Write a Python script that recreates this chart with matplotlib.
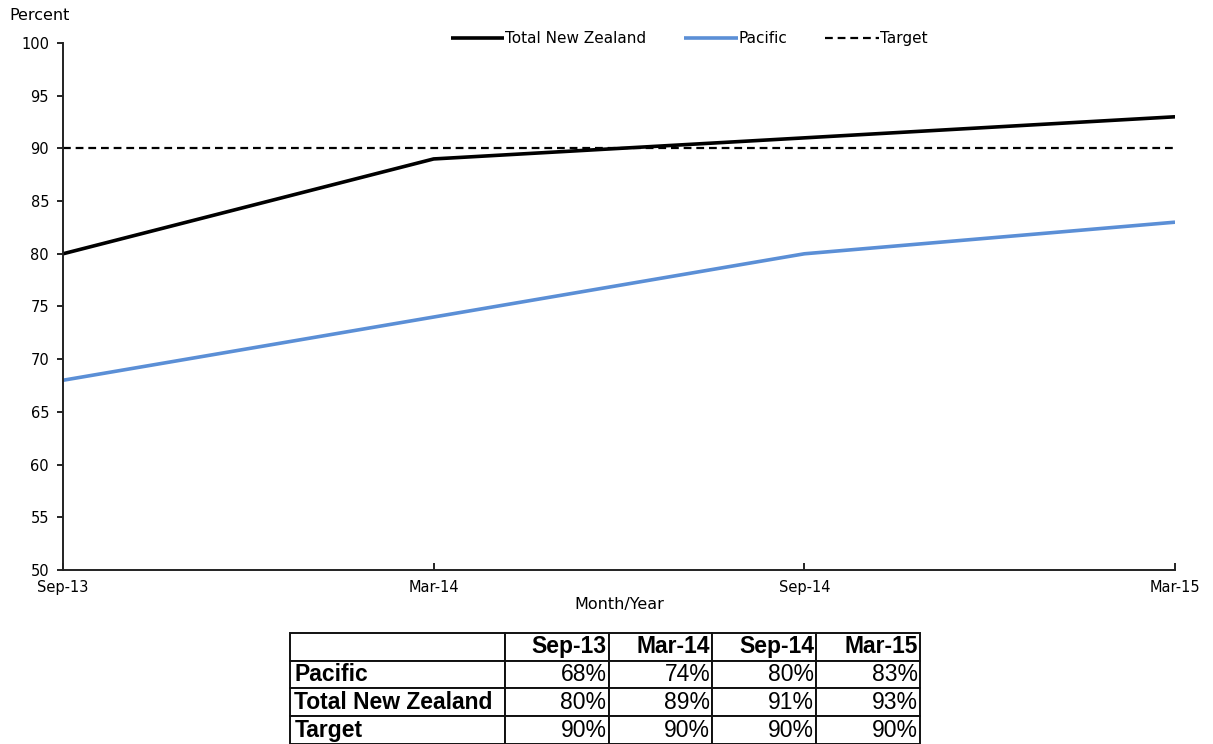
import matplotlib
matplotlib.use('Agg')
import matplotlib.pyplot as plt

periods = ['Sep-13', 'Mar-14', 'Sep-14', 'Mar-15']
total_nz = [80, 89, 91, 93]
pacific = [68, 74, 80, 83]
target = [90, 90, 90, 90]
y_ticks = [50, 55, 60, 65, 70, 75, 80, 85, 90, 95, 100]

C_BLACK = '#000000'
C_PACIFIC = '#5B8FD6'
AX_FONT = ['DejaVu Sans']
TABLE_FONT = ['Liberation Sans Narrow', 'Liberation Sans', 'DejaVu Sans']

fig = plt.figure(figsize=(12.13, 7.44), dpi=100)
ax = fig.add_axes([0.0519, 0.2339, 0.9168, 0.7083])

x = list(range(len(periods)))
ax.plot(x, total_nz, color=C_BLACK, lw=2.6, label='Total New Zealand', solid_capstyle='butt')
ax.plot(x, pacific, color=C_PACIFIC, lw=2.6, label='Pacific', solid_capstyle='butt')
ax.plot(x, target, color=C_BLACK, lw=1.6, ls=(0, (3.5, 2.2)), label='Target')

ax.set_xlim(0, len(periods) - 1)
ax.set_ylim(50, 100)
ax.set_xticks(x)
ax.set_xticklabels(periods)
ax.set_yticks(y_ticks)
for lab in ax.get_xticklabels() + ax.get_yticklabels():
    lab.set_family(AX_FONT)
    lab.set_fontsize(10.5)
ax.tick_params(axis='x', direction='in', length=5, width=1.2, pad=7)
ax.tick_params(axis='y', direction='out', length=4, width=1.2, pad=6)
ax.spines['top'].set_visible(False)
ax.spines['right'].set_visible(False)
ax.spines['left'].set_linewidth(1.4)
ax.spines['bottom'].set_linewidth(1.4)
ax.spines['left'].set_color('#222222')
ax.spines['bottom'].set_color('#222222')

ax.set_xlabel('Month/Year', family=AX_FONT, fontsize=11.5, labelpad=2)
fig.text(0.008, 0.979, 'Percent', family=AX_FONT, fontsize=11.5, va='center', ha='left')

fig.legend(loc='center', bbox_to_anchor=(0.568, 0.9476), ncol=3, frameon=False,
           prop={'family': AX_FONT, 'size': 11}, handlelength=3.5,
           handletextpad=0.05, columnspacing=2.5)

# data table under the chart
tax = fig.add_axes([0.2391, 0.0, 0.5194, 0.1492])
tax.axis('off')
rows = [
    ('Pacific', pacific),
    ('Total New Zealand', total_nz),
    ('Target', target),
]
cell_text = [[''] + periods]
for name, vals in rows:
    cell_text.append([name] + ['%d%%' % v for v in vals])
col_w = [215, 104, 104, 104, 104]
tot = sum(col_w)
tbl = tax.table(cellText=cell_text, bbox=[0, 0, 1, 1],
                colWidths=[w / tot for w in col_w], cellLoc='right')
tbl.auto_set_font_size(False)
for (r, c), cell in tbl.get_celld().items():
    cell.set_linewidth(1.4)
    cell.set_edgecolor('#111111')
    t = cell.get_text()
    t.set_fontsize(16.5)
    t.set_family(TABLE_FONT)
    if c == 0:
        t.set_ha('left')
        cell._loc = 'left'
    if r == 0 or c == 0:
        t.set_fontweight('bold')
    cell.PAD = 0.02

fig.savefig('out.png', dpi=100)
